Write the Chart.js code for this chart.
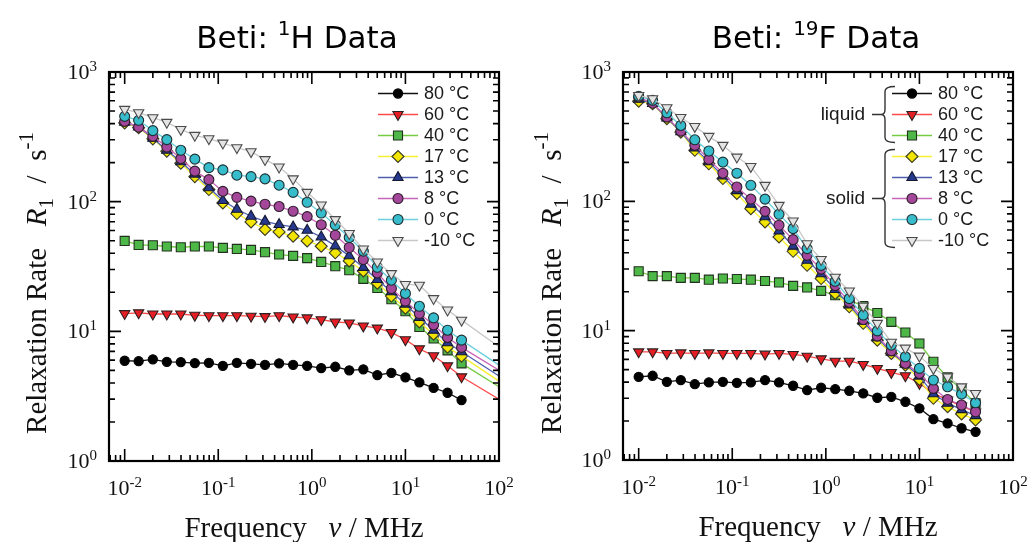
<!DOCTYPE html>
<html>
<head>
<meta charset="utf-8">
<script src="https://cdn.jsdelivr.net/npm/chart.js@4/dist/chart.umd.min.js"></script>
<style>
  html, body { margin: 0; padding: 0; background: #fff; width: 1031px; height: 542px; overflow: hidden; }
  canvas { position: absolute; top: 0; }
  #chartH { left: 0; }
  #chartF { left: 516px; }
</style>
</head>
<body>
<canvas id="chartH" width="515" height="542"></canvas>
<canvas id="chartF" width="515" height="542"></canvas>
<script>
// ---- Measured relaxation rates R1 (s^-1) versus Larmor frequency (MHz) ----
const FREQ_MHZ = [0.0100, 0.0141, 0.0200, 0.0282, 0.0398, 0.0562, 0.0794, 0.112, 0.158, 0.224,
                  0.316, 0.447, 0.631, 0.891, 1.26, 1.78, 2.51, 3.55, 5.01, 7.08,
                  10.0, 14.1, 20.0, 28.2, 39.8];
const TAIL_FREQ_MHZ = 100;

const TEMPERATURES = ['80 °C', '60 °C', '40 °C', '17 °C', '13 °C', '8 °C', '0 °C', '-10 °C'];

// 1H relaxation
const H_80  = [5.93, 5.89, 6.08, 5.82, 5.79, 5.69, 5.72, 5.42, 5.72, 5.62, 5.52, 5.66, 5.52, 5.42, 5.21, 5.33, 5.00, 5.09, 4.60, 4.79, 4.41, 4.04, 3.67, 3.36, 2.95];
const H_60  = [13.7, 13.9, 13.6, 13.6, 13.6, 13.3, 13.2, 13.2, 13.2, 13.1, 13.0, 13.2, 12.9, 12.7, 12.3, 11.8, 11.6, 11.0, 10.6, 9.81, 8.61, 7.33, 6.48, 5.42, 4.46];
const H_40  = [49.8, 46.4, 46.1, 45.1, 44.5, 45.1, 45.1, 44.0, 43.2, 42.5, 40.8, 39.1, 38.2, 36.7, 34.3, 31.8, 29.6, 25.4, 21.6, 17.7, 14.3, 10.8, 8.81, 7.13, 5.66];
const H_17  = [405, 372, 305, 245, 198, 156, 124, 97.7, 81.0, 69.8, 61.0, 58.4, 54.1, 49.8, 45.3, 40.3, 34.9, 29.2, 23.5, 18.7, 15.1, 11.8, 9.50, 7.55, 6.44];
const H_13  = [410, 376, 308, 249, 203, 163, 128, 102, 87.4, 77.2, 70.6, 66.6, 63.8, 60.2, 53.5, 45.6, 38.2, 31.1, 25.1, 20.2, 16.2, 12.8, 10.2, 8.15, 6.95];
const H_8   = [416, 376, 319, 264, 215, 172, 148, 120, 108, 101, 95.5, 91.7, 84.4, 76.7, 66.4, 55.1, 44.3, 35.8, 28.2, 21.4, 17.1, 13.7, 11.2, 8.97, 7.52];
const H_0   = [455, 424, 353, 301, 249, 213, 183, 176, 160, 156, 150, 134, 118, 98.9, 81.8, 66.1, 52.9, 41.5, 31.2, 24.8, 19.6, 15.6, 12.7, 10.2, 8.55];
const H_M10 = [515, 486, 444, 409, 361, 325, 306, 283, 261, 243, 211, 185, 150, 118, 94.3, 72.8, 56.8, 43.2, 34.3, 27.9, 23.0, 22.7, 17.9, 14.6, 12.2];
// model curves continued to 100 MHz (none for 80 °C)
const H_TAIL = [null, 3.00, 3.74, 4.13, 4.52, 5.02, 5.49, 7.60];

// 19F relaxation
const F_80  = [4.40, 4.48, 4.02, 4.15, 3.86, 3.98, 4.02, 3.95, 3.98, 4.15, 3.98, 3.75, 3.47, 3.62, 3.53, 3.43, 3.27, 3.03, 3.08, 2.82, 2.51, 2.07, 1.92, 1.76, 1.65];
const F_60  = [6.86, 6.86, 6.67, 6.74, 6.67, 6.74, 6.67, 6.67, 6.67, 6.59, 6.67, 6.55, 6.35, 6.06, 5.81, 5.81, 5.48, 5.11, 4.75, 4.48, 3.91, 3.29, 2.91, 2.61, 2.35];
const F_40  = [28.8, 26.4, 26.4, 25.6, 25.6, 24.8, 25.3, 25.1, 24.8, 24.2, 23.6, 22.2, 21.6, 20.3, 18.8, 17.2, 15.5, 13.7, 11.7, 9.68, 7.96, 5.74, 4.35, 3.52, 2.74];
const F_17  = [595, 568, 435, 343, 248, 195, 150, 115, 87.8, 69.2, 53.0, 41.1, 32.0, 25.3, 19.4, 15.3, 11.4, 8.44, 6.67, 5.41, 4.20, 3.00, 2.58, 2.27, 2.04];
const F_13  = [615, 570, 440, 345, 258, 202, 157, 121, 95.0, 76.0, 59.0, 45.0, 35.0, 27.5, 20.8, 15.8, 11.8, 8.80, 6.80, 5.50, 4.45, 3.25, 2.75, 2.45, 2.20];
const F_8   = [639, 574, 448, 349, 271, 211, 165, 129, 104, 83.7, 65.3, 50.6, 38.3, 29.9, 22.3, 16.6, 12.2, 9.07, 6.98, 5.58, 4.67, 3.58, 2.94, 2.66, 2.36];
const F_0   = [650, 603, 484, 386, 299, 245, 201, 165, 133, 104, 79.4, 61.5, 43.1, 32.0, 24.1, 17.7, 13.2, 9.96, 7.73, 6.28, 5.11, 4.15, 3.68, 3.23, 2.77];
const F_M10 = [659, 621, 529, 445, 379, 318, 271, 220, 186, 133, 93.1, 70.5, 47.0, 35.5, 25.9, 20.3, 15.5, 11.4, 8.15, 7.33, 6.36, 5.11, 4.40, 3.68, 3.27];

// axis tick labels (powers of ten)
const X_TICK_EXPONENTS = ['-2', '-1', '0', '1', '2'];
const Y_TICK_EXPONENTS = ['0', '1', '2', '3'];

// ---- styling ----
const LINE_COLORS  = ['#111111', '#ff4a4a', '#74cc44', '#f6f030', '#4f5fb0', '#c965b8', '#6cd0de', '#c8c8c8'];
const FILL_COLORS  = ['#000000', '#e41e24', '#4db848', '#f2e500', '#27398f', '#a4479b', '#36bccb', '#e4e4e4'];
const EDGE_COLORS  = ['#000000', '#2a2020', '#22301e', '#3a3a24', '#141830', '#2c1e2a', '#1e2e32', '#4a4a4a'];
const POINT_STYLES = ['circle', 'triangle', 'rect', 'rectRot', 'triangle', 'circle', 'circle', 'triangle'];
const POINT_ROT    = [0, 180, 0, 0, 0, 0, 0, 180];
const POINT_SIZE   = [4.6, 5.9, 6.4, 6.0, 5.9, 5.0, 5.0, 5.9];

const SERIF = '"Liberation Serif", "Times New Roman", serif';
const SANS = '"Liberation Sans", Arial, sans-serif';
const TITLE_FONT = '"DejaVu Sans", Verdana, sans-serif';

function buildDatasets(series, tails) {
  return series.map((vals, i) => {
    const pts = FREQ_MHZ.map((f, k) => ({ x: f, y: vals[k] }));
    if (tails && tails[i] != null) pts.push({ x: TAIL_FREQ_MHZ, y: tails[i] });
    return {
      label: TEMPERATURES[i],
      data: pts,
      borderColor: LINE_COLORS[i],
      backgroundColor: FILL_COLORS[i],
      borderWidth: 1.3,
      pointBackgroundColor: FILL_COLORS[i],
      pointBorderColor: EDGE_COLORS[i],
      pointBorderWidth: 1.1,
      pointStyle: POINT_STYLES[i],
      pointRotation: POINT_ROT[i],
      pointRadius: (c) => (c.raw && c.raw.x >= TAIL_FREQ_MHZ ? 0 : POINT_SIZE[i]),
      pointHoverRadius: 0,
      tension: 0,
      order: series.length - i
    };
  });
}

// text made of runs with individual fonts and vertical shifts
function runsWidth(ctx, runs) {
  let w = 0;
  for (const r of runs) { ctx.font = r.font; w += ctx.measureText(r.text).width; }
  return w;
}
function drawRuns(ctx, runs, x, y, align) {
  const w = runsWidth(ctx, runs);
  let cx = align === 'center' ? x - w / 2 : align === 'right' ? x - w : x;
  ctx.textAlign = 'left';
  ctx.textBaseline = 'alphabetic';
  for (const r of runs) {
    ctx.font = r.font;
    ctx.fillText(r.text, cx, y + (r.dy || 0));
    cx += ctx.measureText(r.text).width;
  }
}
function powRuns(exp) {
  return [{ text: '10', font: '22px ' + SERIF }, { text: exp, font: '15px ' + SERIF, dy: -8 }];
}

function drawBrace(ctx, xb, top, bottom) {
  const hook = 10, r = 5, mid = (top + bottom) / 2, tip = 4;
  ctx.beginPath();
  ctx.moveTo(xb + hook, top);
  ctx.quadraticCurveTo(xb, top, xb, top + r);
  ctx.lineTo(xb, mid - r);
  ctx.quadraticCurveTo(xb, mid, xb - tip, mid);
  ctx.quadraticCurveTo(xb, mid, xb, mid + r);
  ctx.lineTo(xb, bottom - r);
  ctx.quadraticCurveTo(xb, bottom, xb + hook, bottom);
  ctx.moveTo(xb - tip - 9, mid);
  ctx.lineTo(xb - tip, mid);
  ctx.stroke();
}

const panelPlugin = {
  id: 'panel',
  afterDraw(chart, args, o) {
    const { ctx, chartArea: a } = chart;
    const xs = chart.scales.x, ys = chart.scales.y;
    ctx.save();

    // inward ticks on all four sides
    const eachTick = (scale, cb) => {
      const lo = Math.floor(Math.log10(scale.min)), hi = Math.ceil(Math.log10(scale.max));
      for (let d = lo; d <= hi; d++) {
        for (let m = 1; m <= 9; m++) {
          const v = m * Math.pow(10, d);
          if (v < scale.min * 0.999 || v > scale.max * 1.001) continue;
          cb(scale.getPixelForValue(v), m === 1);
        }
      }
    };
    ctx.strokeStyle = '#000';
    ctx.lineWidth = 1.6;
    ctx.beginPath();
    eachTick(xs, (px, major) => {
      const L = major ? 12 : 6;
      ctx.moveTo(px, a.bottom); ctx.lineTo(px, a.bottom - L);
      ctx.moveTo(px, a.top); ctx.lineTo(px, a.top + L);
    });
    eachTick(ys, (py, major) => {
      const L = major ? 12 : 6;
      ctx.moveTo(a.left, py); ctx.lineTo(a.left + L, py);
      ctx.moveTo(a.right, py); ctx.lineTo(a.right - L, py);
    });
    ctx.stroke();
    ctx.lineWidth = 2.2;
    ctx.strokeRect(a.left, a.top, a.right - a.left, a.bottom - a.top);

    // tick labels
    ctx.fillStyle = '#111';
    for (const e of X_TICK_EXPONENTS) {
      drawRuns(ctx, powRuns(e), xs.getPixelForValue(Math.pow(10, Number(e))), a.bottom + 34, 'center');
    }
    for (const e of Y_TICK_EXPONENTS) {
      drawRuns(ctx, powRuns(e), a.left - 12, ys.getPixelForValue(Math.pow(10, Number(e))) + 7, 'right');
    }

    // axis titles
    drawRuns(ctx, [
      { text: 'Frequency   ', font: '29px ' + SERIF },
      { text: 'ν', font: 'italic 29px ' + SERIF },
      { text: ' / MHz', font: '29px ' + SERIF }
    ], (a.left + a.right) / 2, a.bottom + 76, 'center');

    ctx.save();
    ctx.translate(o.yTitleX, o.yTitleY);
    ctx.rotate(-Math.PI / 2);
    drawRuns(ctx, [
      { text: 'Relaxation Rate   ', font: '29px ' + SERIF },
      { text: 'R', font: 'italic 29px ' + SERIF },
      { text: '1', font: '21px ' + SERIF, dy: 7 },
      { text: '  /  s', font: '29px ' + SERIF },
      { text: '-1', font: '21px ' + SERIF, dy: -13 }
    ], 0, 0, 'center');
    ctx.restore();

    // panel title
    ctx.fillStyle = '#000';
    drawRuns(ctx, [
      { text: 'Beti: ', font: '31px ' + TITLE_FONT },
      { text: o.nucleusMass, font: '20px ' + TITLE_FONT, dy: -13 },
      { text: o.nucleus + ' Data', font: '31px ' + TITLE_FONT }
    ], (a.left + a.right) / 2 + o.titleShift, 48, 'center');

    // legend
    const rowY = (i) => 93.5 + 21 * i;
    chart.data.datasets.forEach((ds, i) => {
      const y = rowY(i);
      ctx.strokeStyle = ds.borderColor;
      ctx.lineWidth = 1.6;
      ctx.beginPath();
      ctx.moveTo(a.right - 121, y); ctx.lineTo(a.right - 81, y);
      ctx.stroke();
      ctx.fillStyle = ds.pointBackgroundColor;
      ctx.strokeStyle = ds.pointBorderColor;
      ctx.lineWidth = 1.1;
      Chart.helpers.drawPoint(ctx, {
        pointStyle: ds.pointStyle, rotation: ds.pointRotation,
        radius: POINT_SIZE[i], borderWidth: 1.1
      }, a.right - 101, y);
      ctx.fillStyle = '#1a1a1a';
      ctx.font = '18px ' + SANS;
      ctx.textAlign = 'left';
      ctx.textBaseline = 'middle';
      ctx.fillText(ds.label, a.right - 75, y + 1);
    });

    // grouping braces
    if (o.groups) {
      ctx.strokeStyle = '#333';
      ctx.lineWidth = 1.4;
      for (const g of o.groups) {
        const top = rowY(g.from) - 7, bottom = rowY(g.to) + 7;
        const xb = a.right - 128;
        drawBrace(ctx, xb, top, bottom);
        ctx.fillStyle = '#1a1a1a';
        ctx.font = '19px ' + SANS;
        ctx.textAlign = 'right';
        ctx.textBaseline = 'middle';
        ctx.fillText(g.label, xb - 20, (top + bottom) / 2);
      }
    }
    ctx.restore();
  }
};

function makeChart(id, datasets, pad, panelOpts) {
  return new Chart(document.getElementById(id), {
    type: 'line',
    data: { datasets },
    options: {
      responsive: false,
      animation: false,
      devicePixelRatio: 1,
      layout: { padding: pad },
      events: [],
      plugins: { legend: { display: false }, tooltip: { enabled: false }, panel: panelOpts },
      scales: {
        x: { type: 'logarithmic', min: 0.0068, max: 100, display: false },
        y: { type: 'logarithmic', min: 1, max: 1000, display: false }
      }
    },
    plugins: [panelPlugin]
  });
}

makeChart('chartH',
  buildDatasets([H_80, H_60, H_40, H_17, H_13, H_8, H_0, H_M10], H_TAIL),
  { left: 109, right: 16, top: 72, bottom: 81 },
  { nucleusMass: '1', nucleus: 'H', yTitleX: 46, yTitleY: 283, titleShift: -7 });

makeChart('chartF',
  buildDatasets([F_80, F_60, F_40, F_17, F_13, F_8, F_0, F_M10], null),
  { left: 107, right: 18, top: 72, bottom: 82 },
  { nucleusMass: '19', nucleus: 'F', yTitleX: 45, yTitleY: 283, titleShift: -2,
    groups: [{ label: 'liquid', from: 0, to: 2 }, { label: 'solid', from: 3, to: 7 }] });
</script>
</body>
</html>
